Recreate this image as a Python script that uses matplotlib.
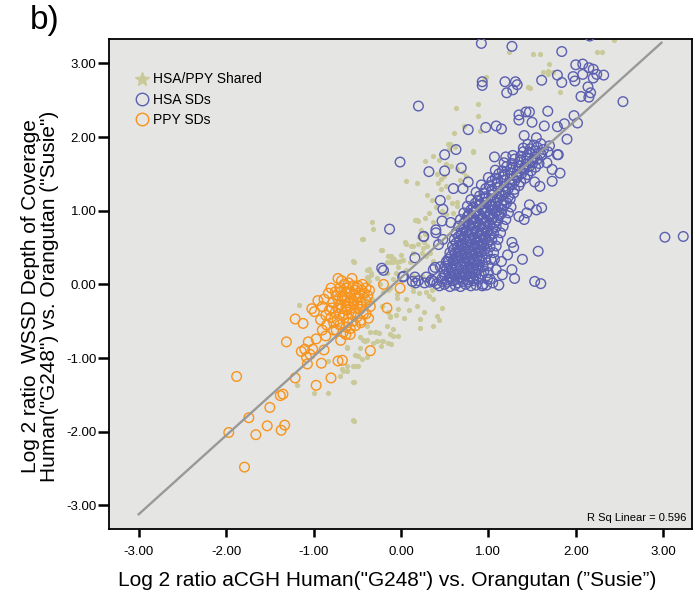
import matplotlib
matplotlib.use('Agg')
import matplotlib.pyplot as plt
from matplotlib.lines import Line2D
import numpy as np

# values (log2 aCGH ratio, log2 WSSD ratio)
shared_pts = [
    (-0.43, 0.62), (-0.22, 0.47), (-0.54, 0.31), (-0.39, 0.20), (-0.34, 0.16), (-0.11, 0.39),
    (-0.01, 0.32), (-1.17, -0.28), (-0.22, -0.30), (-0.13, -0.43), (-0.09, -0.61), (-0.28, -0.65),
    (-0.22, -0.77), (-0.11, -0.81), (-0.39, -0.75), (-0.47, -0.86), (-0.62, -0.86), (-0.49, -0.97),
    (-0.39, -0.99), (-0.55, -1.11), (-0.62, -1.17), (-0.70, -1.24), (-0.83, -1.04), (-1.19, -1.36),
    (-1.00, -1.47), (-0.83, -1.47), (-0.54, -1.33), (-0.54, -1.85), (0.03, -0.45), (0.06, -0.20),
    (0.18, -0.29), (0.22, -0.47), (0.22, -0.59), (0.37, -0.56), (0.41, -0.43), (0.47, -0.32),
    (0.37, -0.20), (0.29, -0.11), (0.14, -0.09), (-0.03, -0.34), (-0.16, -0.56), (-0.39, -0.56),
    (0.05, 0.57), (0.12, 0.52), (0.19, 0.55), (0.25, 0.49), (-0.10, 0.36), (-0.05, 0.30),
    (0.00, 0.40), (0.29, 0.38), (0.37, 0.32), (0.14, 0.11), (0.24, 0.11), (-0.32, 0.75),
    (-0.33, 0.84), (-0.44, 0.62), (-0.23, 0.47), (-0.55, 0.32), (-0.37, 0.21), (-0.15, 0.39),
    (-0.13, 0.30), (-0.08, 0.34), (0.02, 0.33), (0.10, 0.31), (0.06, 1.40), (0.16, 0.88),
    (0.19, 0.86), (0.14, 0.52), (-0.38, 0.09), (-0.34, 0.13),
    (0.56, 1.91), (0.83, 1.81), (0.37, 1.74), (0.27, 1.67), (0.43, 1.69), (0.52, 1.63),
    (0.57, 1.60), (0.64, 1.56), (0.18, 1.38), (0.41, 1.50), (0.46, 1.43), (0.49, 1.47),
    (0.42, 1.38), (0.51, 1.34), (0.46, 1.29), (0.71, 1.53), (0.75, 1.47), (0.68, 1.42),
    (0.54, 1.19), (0.64, 1.12), (0.58, 1.11), (0.36, 1.15), (0.32, 0.97), (0.27, 0.90),
    (0.18, 0.88), (0.37, 0.84), (0.64, 1.06), (0.60, 0.97), (0.23, 0.74), (0.28, 0.69),
    (0.21, 0.64), (0.26, 0.57), (0.30, 0.52), (0.33, 0.43), (0.24, 0.43), (0.06, 0.55),
    (0.14, 0.42), (-0.09, 0.31), (-0.16, 0.31), (-0.03, 0.24), (0.06, 0.20), (-0.06, 0.16),
    (0.14, -0.03), (0.21, -0.12), (0.32, -0.16), (0.36, -0.07), (-0.24, 0.00), (-0.15, -0.07),
    (1.24, 3.16), (1.51, 3.12), (1.59, 3.12), (1.69, 2.99), (1.63, 2.88), (1.68, 2.90),
    (1.68, 2.86), (1.74, 2.88), (1.45, 2.68), (1.48, 2.67), (1.82, 2.61), (2.24, 3.15),
    (2.30, 3.16), (2.44, 3.31), (0.63, 2.39), (0.88, 2.45), (0.88, 2.29), (0.72, 2.15),
    (0.90, 2.08), (0.61, 2.06), (0.54, 1.91), (0.55, 1.84), (0.62, 1.86), (0.83, 1.80),
    (0.97, 2.81), (0.95, 2.77), (0.30, 1.21), (0.47, 1.00), (0.52, 0.95), (0.40, 1.05),
    (-0.55, -1.84), (-0.66, -1.17), (-0.68, -1.15), (-0.55, -1.33), (-0.62, -1.11), (-0.53, -1.11),
    (-0.49, -1.11), (-0.53, -0.96), (-0.45, -1.01), (-0.62, -0.85), (-0.47, -0.72), (-0.43, -0.75),
    (-0.41, -0.77), (-0.32, -0.80), (-0.27, -0.77), (-0.23, -0.84), (-0.20, -0.77), (-0.15, -0.79),
    (-0.13, -0.68), (-0.09, -0.70), (-0.03, -0.70), (-0.30, -0.64), (-0.35, -0.64), (-0.25, -0.66),
    (-0.13, -0.44), (-0.15, -0.38), (-0.06, -0.41), (-0.39, -0.24), (-0.33, -0.20), (-0.41, -0.18),
    (-0.20, -0.10), (-0.13, -0.05), (-0.05, -0.13), (-0.04, -0.18), (-0.39, 0.10), (-0.27, 0.08),
    (-0.36, 0.04), (-0.16, 0.15), (-0.09, 0.07), (0.09, -0.35), (0.26, -0.37), (0.44, -0.49),
]

hsa_pts = [
    # dense band
    (0.44, -0.02), (0.50, 0.00), (0.56, -0.03), (0.62, -0.01), (0.68, -0.03), (0.74, 0.00),
    (0.80, -0.02), (0.86, -0.01), (0.93, -0.02),
    (0.47, 0.08), (0.53, 0.06), (0.59, 0.09), (0.65, 0.07), (0.71, 0.09), (0.77, 0.06),
    (0.83, 0.08), (0.89, 0.07),
    (0.49, 0.17), (0.55, 0.15), (0.61, 0.16), (0.67, 0.14), (0.73, 0.17), (0.79, 0.15),
    (0.85, 0.16), (0.92, 0.14),
    (0.51, 0.25), (0.57, 0.23), (0.63, 0.26), (0.69, 0.24), (0.75, 0.25), (0.81, 0.23),
    (0.87, 0.26), (0.94, 0.24), (1.00, 0.25),
    (0.54, 0.34), (0.60, 0.33), (0.66, 0.35), (0.72, 0.32), (0.78, 0.34), (0.84, 0.33),
    (0.90, 0.35), (0.97, 0.33), (1.03, 0.34),
    (0.56, 0.43), (0.62, 0.42), (0.68, 0.44), (0.74, 0.41), (0.80, 0.43), (0.86, 0.42),
    (0.92, 0.44), (0.99, 0.42), (1.06, 0.43),
    (0.59, 0.52), (0.65, 0.51), (0.71, 0.53), (0.77, 0.50), (0.83, 0.52), (0.89, 0.51),
    (0.95, 0.53), (1.02, 0.51), (1.09, 0.52),
    (0.61, 0.61), (0.67, 0.60), (0.73, 0.62), (0.79, 0.59), (0.85, 0.61), (0.91, 0.60),
    (0.97, 0.62), (1.04, 0.60), (1.11, 0.61),
    (0.63, 0.70), (0.69, 0.69), (0.75, 0.71), (0.81, 0.68), (0.87, 0.70), (0.93, 0.69),
    (0.99, 0.71), (1.06, 0.69), (1.14, 0.70),
    (0.66, 0.79), (0.72, 0.78), (0.78, 0.80), (0.84, 0.77), (0.90, 0.79), (0.96, 0.78),
    (1.02, 0.80), (1.09, 0.78), (1.17, 0.79),
    (0.68, 0.88), (0.74, 0.87), (0.80, 0.89), (0.86, 0.86), (0.92, 0.88), (0.98, 0.87),
    (1.04, 0.89), (1.11, 0.87), (1.20, 0.88),
    (0.72, 0.97), (0.78, 0.96), (0.84, 0.98), (0.90, 0.95), (0.96, 0.97), (1.02, 0.96),
    (1.08, 0.98), (1.15, 0.96), (1.23, 0.97),
    (0.76, 1.06), (0.83, 1.05), (0.90, 1.07), (0.97, 1.04), (1.04, 1.06), (1.11, 1.05),
    (1.18, 1.07), (1.26, 1.05),
    (0.80, 1.15), (0.88, 1.14), (0.96, 1.16), (1.03, 1.13), (1.10, 1.15), (1.17, 1.14),
    (1.25, 1.16),
    (0.86, 1.25), (0.95, 1.24), (1.04, 1.26), (1.12, 1.23), (1.20, 1.25), (1.29, 1.24),
    (0.92, 1.35), (1.01, 1.34), (1.10, 1.36), (1.18, 1.33), (1.27, 1.35), (1.35, 1.34),
    (1.00, 1.45), (1.08, 1.44), (1.17, 1.46), (1.25, 1.43), (1.33, 1.45), (1.42, 1.44),
    (1.08, 1.55), (1.16, 1.54), (1.25, 1.56), (1.33, 1.53), (1.41, 1.55), (1.49, 1.54),
    (1.18, 1.65), (1.27, 1.64), (1.35, 1.66), (1.43, 1.63), (1.51, 1.65), (1.58, 1.64),
    (1.28, 1.75), (1.37, 1.74), (1.45, 1.76), (1.53, 1.73), (1.61, 1.75),
    (1.40, 1.85), (1.48, 1.84), (1.56, 1.86), (1.63, 1.83),
    # dense band, in between the rows above
    (0.47, 0.04), (0.53, 0.03), (0.59, 0.05), (0.65, 0.02), (0.71, 0.04), (0.77, 0.03), (0.83, 0.05),
    (0.50, 0.12), (0.56, 0.11), (0.62, 0.13), (0.68, 0.10), (0.74, 0.12), (0.80, 0.11), (0.86, 0.13),
    (0.52, 0.21), (0.58, 0.20), (0.64, 0.22), (0.70, 0.19), (0.76, 0.21), (0.82, 0.20), (0.88, 0.22),
    (0.54, 0.30), (0.60, 0.29), (0.66, 0.31), (0.72, 0.28), (0.78, 0.30), (0.84, 0.29), (0.90, 0.31),
    (0.57, 0.38), (0.63, 0.37), (0.69, 0.39), (0.75, 0.36), (0.81, 0.38), (0.87, 0.37), (0.93, 0.39),
    (0.60, 0.47), (0.66, 0.46), (0.72, 0.48), (0.78, 0.45), (0.84, 0.47), (0.90, 0.46), (0.96, 0.48),
    (0.63, 0.56), (0.69, 0.55), (0.75, 0.57), (0.81, 0.54), (0.87, 0.56), (0.93, 0.55), (0.99, 0.57),
    (0.66, 0.65), (0.72, 0.64), (0.78, 0.66), (0.84, 0.63), (0.90, 0.65), (0.96, 0.64), (1.02, 0.66),
    (0.69, 0.74), (0.75, 0.73), (0.81, 0.75), (0.87, 0.72), (0.93, 0.74), (0.99, 0.73), (1.05, 0.75),
    (0.72, 0.83), (0.78, 0.82), (0.84, 0.84), (0.90, 0.81), (0.96, 0.83), (1.02, 0.82), (1.08, 0.84),
    (0.76, 0.92), (0.82, 0.91), (0.88, 0.93), (0.94, 0.90), (1.00, 0.92), (1.06, 0.91), (1.12, 0.93),
    (0.80, 1.01), (0.86, 1.00), (0.92, 1.02), (0.98, 0.99), (1.04, 1.01), (1.10, 1.00), (1.16, 1.02),
    (0.85, 1.10), (0.91, 1.09), (0.97, 1.11), (1.03, 1.08), (1.09, 1.10), (1.15, 1.09), (1.21, 1.11),
    (0.90, 1.20), (0.97, 1.19), (1.04, 1.21), (1.10, 1.18), (1.16, 1.20), (1.23, 1.19),
    (0.97, 1.30), (1.04, 1.29), (1.11, 1.31), (1.17, 1.28), (1.23, 1.30), (1.30, 1.29),
    (1.04, 1.40), (1.11, 1.39), (1.18, 1.41), (1.24, 1.38), (1.30, 1.40), (1.37, 1.39),
    (1.12, 1.50), (1.19, 1.49), (1.26, 1.51), (1.32, 1.48), (1.38, 1.50), (1.45, 1.49),
    (1.21, 1.60), (1.28, 1.59), (1.35, 1.61), (1.41, 1.58), (1.47, 1.60), (1.54, 1.59),
    (1.30, 1.70), (1.37, 1.69), (1.44, 1.71), (1.50, 1.68), (1.56, 1.70),
    (1.40, 1.80), (1.47, 1.79), (1.54, 1.81), (1.60, 1.78), (1.68, 1.80),
    (1.45, 1.90), (1.52, 1.89), (1.60, 1.91), (1.70, 1.88),
    (0.20, 0.05), (0.27, 0.02), (0.35, 0.06), (0.41, 0.01), (0.98, -0.01), (1.05, 0.02), (1.12, -0.01),
    # scattered
    (0.92, 3.27), (1.27, 3.23), (2.16, 3.37), (1.84, 3.16), (2.00, 2.98), (2.08, 2.99),
    (2.15, 2.94), (2.20, 2.92), (1.97, 2.82), (1.99, 2.76), (2.08, 2.85), (2.20, 2.80),
    (2.24, 2.85), (2.32, 2.84), (1.79, 2.84), (1.84, 2.74), (1.61, 2.77), (2.14, 2.68),
    (2.17, 2.60), (2.06, 2.55), (2.15, 2.54), (2.54, 2.48), (0.93, 2.75), (0.93, 2.70),
    (1.19, 2.75), (1.31, 2.75), (1.33, 2.71), (1.28, 2.64), (1.21, 2.60), (0.20, 2.42),
    (1.35, 2.30), (1.43, 2.34), (1.47, 2.34), (1.35, 2.23), (1.50, 2.20), (1.68, 2.35),
    (1.64, 2.15), (1.79, 2.14), (1.87, 2.18), (1.98, 2.29), (2.02, 2.19), (1.90, 1.97),
    (0.97, 2.13), (1.09, 2.15), (1.15, 2.11), (0.77, 2.10), (1.41, 2.02), (1.55, 1.99),
    (0.63, 1.83), (0.50, 1.76), (1.07, 1.73), (1.20, 1.73), (1.79, 1.76), (-0.01, 1.66),
    (0.32, 1.53), (0.50, 1.54), (0.69, 1.58), (0.60, 1.30), (0.71, 1.30), (0.77, 1.39),
    (0.45, 1.14), (0.48, 1.02), (0.47, 0.86), (0.57, 0.84), (0.40, 0.74), (0.26, 0.65),
    (-0.13, 0.75), (0.43, 0.54), (0.48, 0.61), (0.16, 0.36), (0.37, 0.20), (0.39, 0.23),
    (0.02, 0.10), (0.13, 0.04), (0.17, 0.02), (0.29, 0.10), (0.33, 0.03), (-0.22, 0.22),
    (-0.20, 0.19), (1.80, 1.76), (1.82, 1.51), (1.73, 1.40), (1.67, 1.65), (1.73, 1.56),
    (1.53, 1.39), (1.59, 1.33), (1.47, 1.08), (1.55, 1.01), (1.61, 1.04), (1.41, 0.88),
    (1.35, 0.92), (1.44, 0.97), (1.27, 0.57), (1.29, 0.50), (1.57, 0.45), (1.39, 0.34),
    (1.27, 0.20), (1.16, 0.13), (1.09, 0.20), (1.00, 0.16), (0.95, 0.18), (1.53, 0.04),
    (1.60, 0.01), (0.94, 0.00), (1.02, 0.07), (1.15, 0.31), (1.07, 0.34), (3.02, 0.64),
    (3.23, 0.65), (0.26, 0.65), (0.40, 0.70), (0.45, 0.24), (0.52, 0.31), (0.88, 0.20),
    (0.99, 0.07), (0.03, 0.11), (0.16, 0.10), (0.37, 0.04), (1.30, 0.08), (1.22, 0.40),
]

ppy_pts = [
    (-1.88, -1.25), (-1.97, -2.01), (-1.79, -2.48), (-1.74, -1.81), (-1.66, -2.04), (-1.53, -1.92),
    (-1.50, -1.67), (-1.37, -1.98), (-1.33, -1.91), (-1.38, -1.51), (-1.35, -1.49), (-1.21, -1.27),
    (-1.31, -0.78), (-0.97, -1.37), (-0.80, -1.27), (-1.21, -0.47), (-1.12, -0.53), (-1.02, -0.33),
    (-0.99, -0.37), (-0.95, -0.22), (-1.06, -0.78), (-0.97, -0.74), (-1.14, -0.91), (-1.10, -0.88),
    (-1.01, -0.88), (-1.08, -0.99), (-1.04, -0.95), (-1.07, -1.08), (-0.91, -1.07), (-0.88, -0.89),
    (-0.86, -0.70), (-0.90, -0.62), (-0.72, -1.04), (-0.67, -1.03), (-0.69, -0.76), (-0.74, -0.62),
    (-0.35, -0.90), (-0.37, -0.46), (-0.46, -0.49), (-0.16, -0.32), (-0.20, 0.00), (-0.01, -0.05),
    (-0.58, -0.68), (-0.63, -0.68),
    (-0.75, -0.10), (-0.70, -0.05), (-0.65, 0.00), (-0.60, 0.02), (-0.55, -0.02), (-0.50, -0.05),
    (-0.45, -0.08), (-0.72, -0.20), (-0.66, -0.15), (-0.62, -0.10), (-0.58, -0.12), (-0.53, -0.15),
    (-0.48, -0.18), (-0.42, -0.12), (-0.78, -0.25), (-0.70, -0.28), (-0.64, -0.22), (-0.60, -0.25),
    (-0.55, -0.22), (-0.50, -0.28), (-0.46, -0.25), (-0.40, -0.22), (-0.82, -0.35), (-0.75, -0.38),
    (-0.68, -0.33), (-0.62, -0.35), (-0.57, -0.32), (-0.52, -0.38), (-0.47, -0.34), (-0.43, -0.40),
    (-0.80, -0.45), (-0.73, -0.48), (-0.66, -0.42), (-0.60, -0.46), (-0.55, -0.50), (-0.50, -0.44),
    (-0.85, -0.55), (-0.70, -0.55), (-0.63, -0.58), (-0.58, -0.60), (-0.52, -0.56), (-0.77, -0.62),
    (-0.66, -0.65), (-0.88, -0.20), (-0.83, -0.12), (-0.68, 0.05), (-0.58, -0.18), (-0.63, -0.30),
    (-0.53, -0.08), (-0.48, -0.12), (-0.72, -0.32), (-0.57, -0.40), (-0.45, -0.30), (-0.40, -0.05),
    (-0.38, -0.15), (-0.62, -0.05), (-0.67, -0.18), (-0.74, -0.15), (-0.54, -0.26), (-0.49, -0.02),
    (-0.90, -0.30), (-0.86, -0.42), (-0.92, -0.48), (-0.80, -0.05), (-0.72, 0.08), (-0.56, 0.08),
    (-0.44, 0.00), (-0.36, -0.08), (-0.35, -0.30), (-0.40, -0.40), (-0.46, -0.52), (-0.70, -0.40),
    (-0.61, -0.52), (-0.77, -0.52), (-0.59, -0.30), (-0.51, -0.18), (-0.69, -0.10), (-0.79, -0.32),
]

fit_intercept = 0.09
fit_slope = 1.07
fit_x = [-3.0, 2.98]
r_sq = 0.596

ticks = [-3, -2, -1, 0, 1, 2, 3]

c_shared = '#c9c999'
c_hsa = '#5b5fb0'
c_ppy = '#f7941d'

narrow = ['Liberation Sans Narrow', 'Liberation Sans', 'DejaVu Sans']
regular = ['Liberation Sans', 'DejaVu Sans']

fig = plt.figure(figsize=(6.93, 5.97), dpi=100)
ax = fig.add_axes([109 / 693, 68 / 597, 583 / 693, 490 / 597])
ax.set_facecolor('#e5e5e4')

sx, sy = np.array(shared_pts).T
hx, hy = np.array(hsa_pts).T
px, py = np.array(ppy_pts).T

ax.scatter(sx, sy, s=14, color=c_shared, linewidths=0, zorder=2)
ax.scatter(hx, hy, s=48, facecolors='none', edgecolors=c_hsa, linewidths=1.0, zorder=3)
ax.scatter(px, py, s=48, facecolors='none', edgecolors=c_ppy, linewidths=1.0, zorder=4)

fx = np.array(fit_x)
ax.plot(fx, fit_intercept + fit_slope * fx, color='#999999', lw=1.7, zorder=5)

ax.set_xlim(-3.34, 3.33)
ax.set_ylim(-3.32, 3.33)
ax.set_xticks(ticks)
ax.set_yticks(ticks)
ax.set_xticklabels([f'{t:.2f}' for t in ticks], family=narrow, fontsize=9.5)
ax.set_yticklabels([f'{t:.2f}' for t in ticks], family=narrow, fontsize=9.5)
ax.tick_params(axis='x', length=6, width=1.8, pad=6)
ax.tick_params(axis='y', length=8, width=1.8, pad=1)
for sp in ax.spines.values():
    sp.set_linewidth(1.3)

ax.text(0.99, 0.013, f'R Sq Linear = {r_sq}', transform=ax.transAxes,
        ha='right', va='bottom', fontsize=8, family=narrow)

handles = [
    Line2D([], [], marker='*', ls='none', color=c_shared, markersize=10),
    Line2D([], [], marker='o', ls='none', markerfacecolor='none', markeredgecolor=c_hsa,
           markersize=9, markeredgewidth=1.0),
    Line2D([], [], marker='o', ls='none', markerfacecolor='none', markeredgecolor=c_ppy,
           markersize=9, markeredgewidth=1.0),
]
ax.legend(handles, ['HSA/PPY Shared', 'HSA SDs', 'PPY SDs'], loc='upper left',
          bbox_to_anchor=(0.032, 0.946), frameon=False, borderpad=0, handlelength=1.0,
          handletextpad=0.3, labelspacing=0.45, prop={'family': narrow, 'size': 10})

fig.text(387 / 693, 1 - 580 / 597, 'Log 2 ratio aCGH Human("G248") vs. Orangutan (\u201dSusie\u201d)',
         ha='center', va='center', fontsize=15, family=regular)
fig.text(40 / 693, 1 - 296 / 597,
         'Log 2 ratio  WSSD Depth of Coverage\nHuman("G248") vs. Orangutan ("Susie")',
         ha='center', va='center', rotation=90, fontsize=15, family=regular,
         multialignment='center', linespacing=0.95)
fig.text(30 / 693, 1 - 20 / 597, 'b)', ha='left', va='center', fontsize=24, family=regular)

fig.savefig('out.png', dpi=100)
